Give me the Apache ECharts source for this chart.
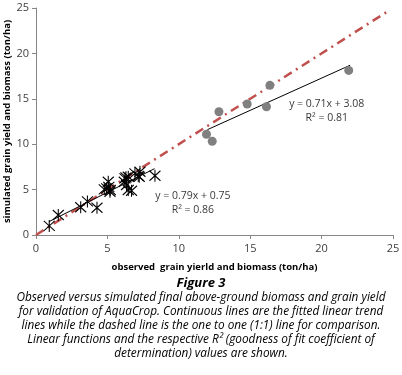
<!DOCTYPE html>
<html>
<head>
<meta charset="utf-8">
<script src="https://cdn.jsdelivr.net/npm/echarts@6/dist/echarts.min.js"></script>
<style>
  html, body { margin: 0; padding: 0; background: #fff; }
  #chart { width: 402px; height: 375px; }
</style>
</head>
<body>
<div id="chart"></div>
<script>
// grain yield (crosses)
const grainObs = [0.93, 1.56, 3.13, 3.6, 4.27, 4.78, 4.95, 5.06, 5.1, 5.18, 5.2, 6.18, 6.23, 6.34, 6.3, 6.46, 6.46, 6.69, 6.93, 7.16, 7.23, 7.28, 8.33]
const grainSim = [1.0, 2.2, 3.05, 3.7, 3.0, 5.03, 5.14, 5.87, 5.3, 4.77, 4.96, 5.87, 6.24, 5.5, 6.35, 6.42, 4.96, 4.88, 6.79, 6.5, 6.42, 6.97, 6.53]
// biomass (circles)
const bioObs = [11.94, 12.34, 12.81, 14.79, 16.14, 16.38, 21.9]
const bioSim = [11.09, 10.32, 13.58, 14.43, 14.13, 16.48, 18.13]
// fitted trend lines
const grainFitX = [0.9, 8.3]
const grainFit = grainFitX.map(x => [x, 0.79 * x + 0.75])
const bioFitX = [12.0, 22.0]
const bioFit = bioFitX.map(x => [x, 0.71 * x + 3.08])
const oneToOne = [[0, 0], [24.6, 24.6]]
const xTicks = { min: 0, max: 25, interval: 5 }
const yTicks = { min: 0, max: 25, interval: 5 }

const captionLines = [
	'Observed versus simulated final above-ground biomass and grain yield',
	'for validation of AquaCrop. Continuous lines are the fitted linear trend',
	'lines while the dashed line is the one to one (1:1) line for comparison.',
	'Linear functions and the respective R² (goodness of fit coefficient of',
	'determination) values are shown.'
]

const chart = echarts.init(document.getElementById('chart'))

const axisCommon = {
	type: 'value',
	nameLocation: 'middle',
	nameMoveOverlap: false,
	nameTextStyle: { fontFamily: 'Open Sans', fontWeight: 'bold', fontSize: 9.5, color: '#000' },
	axisLine: { show: true, lineStyle: { color: '#868686', width: 1 } },
	axisTick: { show: true, length: 4, lineStyle: { color: '#868686' } },
	axisLabel: { fontFamily: 'Open Sans', fontSize: 11, color: '#404040' },
	splitLine: { show: false }
}

chart.setOption({
	animation: false,
	backgroundColor: '#fff',
	grid: { left: 36, right: 9, top: 8, bottom: 140, containLabel: false, outerBoundsMode: 'none' },
	xAxis: Object.assign({}, axisCommon, xTicks, {
		name: 'observed  grain yierld and biomass (ton/ha)',
		nameGap: 27,
		axisLabel: Object.assign({}, axisCommon.axisLabel, { margin: 8 })
	}),
	yAxis: Object.assign({}, axisCommon, yTicks, {
		name: 'simulated grain yield and biomass (ton/ha)',
		nameGap: 24,
		axisLabel: Object.assign({}, axisCommon.axisLabel, { margin: 7 })
	}),
	series: [
		{
			type: 'line',
			data: oneToOne,
			symbol: 'none',
			lineStyle: { color: '#C0504D', width: 2.5, type: [9, 5, 2, 5] },
			z: 1
		},
		{
			type: 'line',
			data: bioFit,
			symbol: 'none',
			lineStyle: { color: '#000', width: 1 },
			z: 2
		},
		{
			type: 'line',
			data: grainFit,
			symbol: 'none',
			lineStyle: { color: '#000', width: 1 },
			z: 2
		},
		{
			type: 'scatter',
			data: bioObs.map((x, i) => [x, bioSim[i]]),
			symbol: 'circle',
			symbolSize: 9,
			itemStyle: { color: '#808080', opacity: 1 },
			z: 3
		},
		{
			type: 'scatter',
			data: grainObs.map((x, i) => [x, grainSim[i]]),
			symbol: 'path://M0,0L10,10M10,0L0,10M5,-1L5,11',
			symbolSize: [11, 12],
			itemStyle: { color: 'rgba(0,0,0,0)', borderColor: '#000', borderWidth: 1.1, opacity: 1 },
			z: 4
		},
		{
			type: 'scatter',
			data: [[20.36, 13.6], [10.99, 3.5]],
			symbolSize: 0,
			silent: true,
			label: {
				show: true,
				position: 'inside',
				fontFamily: 'Open Sans',
				fontSize: 10.5,
				lineHeight: 14,
				color: '#000',
				formatter: p => p.dataIndex === 0 ? 'y = 0.71x + 3.08\nR² = 0.81' : 'y = 0.79x + 0.75\nR² = 0.86'
			},
			z: 5
		}
	],
	graphic: [
		{
			type: 'text',
			left: 'center',
			top: 277,
			style: { text: 'Figure 3', fontFamily: 'Open Sans', fontStyle: 'italic', fontWeight: 'bold', fontSize: 13, fill: '#000' }
		},
		{
			type: 'text',
			left: 'center',
			top: 291,
			style: {
				text: captionLines.join('\n'),
				textAlign: 'center',
				fontFamily: 'Open Sans',
				fontStyle: 'italic',
				fontSize: 11.8,
				lineHeight: 14,
				fill: '#000'
			}
		}
	]
})
</script>
</body>
</html>
